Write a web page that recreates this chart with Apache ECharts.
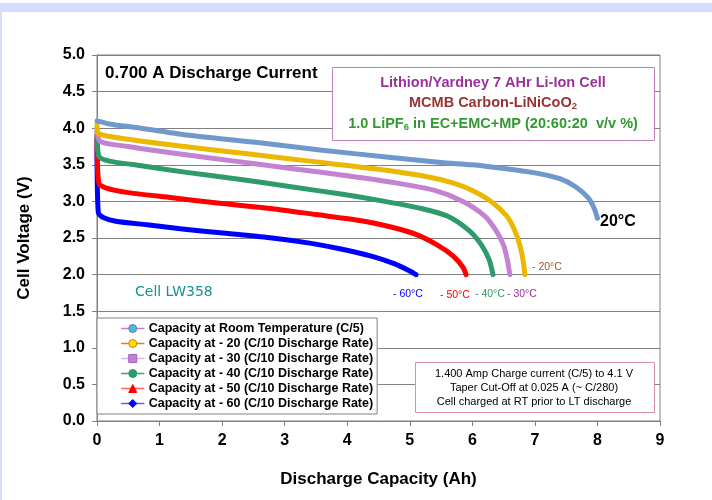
<!DOCTYPE html>
<html><head><meta charset="utf-8">
<script src="https://cdn.jsdelivr.net/npm/echarts@6/dist/echarts.min.js"></script>
<style>html,body{margin:0;padding:0;background:#fff}#c{width:712px;height:500px}</style>
</head><body><div id="c"></div><script>
// Series names
const seriesNames = [
  'Capacity at Room Temperature (C/5)',
  'Capacity at - 20 (C/10 Discharge Rate)',
  'Capacity at - 30 (C/10 Discharge Rate)',
  'Capacity at - 40 (C/10 Discharge Rate)',
  'Capacity at - 50 (C/10 Discharge Rate)',
  'Capacity at - 60 (C/10 Discharge Rate)'
];
// Room temperature
const capRT = [0, 0.25, 0.7, 1.5, 2.6, 3.6, 4.7, 5.5, 6.0, 6.5, 7.0, 7.4, 7.65, 7.85, 7.95, 8.0];
const voltRT = [4.10, 4.05, 4.00, 3.90, 3.80, 3.70, 3.60, 3.53, 3.50, 3.45, 3.39, 3.31, 3.20, 3.05, 2.90, 2.77];
// -20 C
const capM20 = [0, 0.02, 0.5, 1.4, 2.4, 3.4, 4.4, 5.2, 5.7, 6.0, 6.3, 6.55, 6.68, 6.76, 6.81, 6.84];
const voltM20 = [4.05, 3.93, 3.85, 3.75, 3.65, 3.55, 3.45, 3.35, 3.25, 3.15, 3.00, 2.80, 2.60, 2.40, 2.20, 2.00];
// -30 C
const capM30 = [0, 0.05, 0.5, 1.3, 2.2, 3.1, 4.0, 4.8, 5.4, 5.85, 6.2, 6.38, 6.5, 6.56, 6.6];
const voltM30 = [4.00, 3.82, 3.75, 3.65, 3.55, 3.45, 3.35, 3.25, 3.15, 3.00, 2.80, 2.60, 2.40, 2.20, 2.00];
// -40 C
const capM40 = [0, 0.03, 0.2, 0.6, 1.4, 2.3, 3.1, 3.9, 4.6, 5.2, 5.6, 5.95, 6.15, 6.27, 6.33];
const voltM40 = [3.95, 3.62, 3.55, 3.50, 3.40, 3.30, 3.20, 3.10, 3.00, 2.90, 2.80, 2.60, 2.40, 2.20, 2.00];
// -50 C
const capM50 = [0, 0.03, 0.15, 0.5, 1.2, 2.0, 2.8, 3.5, 4.2, 4.7, 5.1, 5.45, 5.7, 5.85, 5.9];
const voltM50 = [3.90, 3.25, 3.18, 3.12, 3.05, 2.97, 2.90, 2.82, 2.74, 2.65, 2.55, 2.40, 2.25, 2.10, 2.00];
// -60 C
const capM60 = [0, 0.02, 0.1, 0.3, 0.8, 1.4, 2.1, 2.8, 3.4, 3.9, 4.4, 4.75, 5.0, 5.1];
const voltM60 = [3.85, 2.85, 2.78, 2.73, 2.68, 2.62, 2.56, 2.50, 2.43, 2.35, 2.25, 2.15, 2.05, 2.00];

const xTicks = [0,1,2,3,4,5,6,7,8,9];
const yTicks = [0,0.5,1,1.5,2,2.5,3,3.5,4,4.5,5];

const caps = [capRT, capM20, capM30, capM40, capM50, capM60];
const volts = [voltRT, voltM20, voltM30, voltM40, voltM50, voltM60];
const lineColors = ['#6f98cc', '#eab800', '#c482d2', '#2f9a6a', '#ff0000', '#0000ff'];
const legendLine = ['#c080c0', '#d08040', '#e0b0f0', '#40a070', '#ff6060', '#6060ff'];
const symFill = ['#40c0d0', '#ffe000', '#c080d0', '#2f9a6a', '#ff0000', '#0000ff'];
const symBorder = ['#a060c0', '#d08000', '#a060c0', '#2f9a6a', '#ff0000', '#0000ff'];
const symbols = ['circle', 'circle', 'rect', 'circle', 'triangle', 'diamond'];

const FONT = 'Liberation Sans, Arial, sans-serif';

const series = seriesNames.map((n, i) => ({
  name: n,
  type: 'line',
  data: caps[i].map((c, j) => [c, volts[i][j]]),
  smooth: 0.25,
  showSymbol: false,
  symbol: symbols[i],
  symbolSize: 7,
  lineStyle: { color: lineColors[i], width: 5, join: 'round', cap: 'round' },
  itemStyle: { color: symFill[i], borderColor: symBorder[i], borderWidth: 1 },
  z: 10 - i
}));

const chart = echarts.init(document.getElementById('c'));
chart.setOption({
  animation: false,
  backgroundColor: '#ffffff',
  grid: { left: 97, right: 52, top: 55, bottom: 79, show: true, borderColor: '#808080', borderWidth: 1 },
  xAxis: {
    type: 'value', min: 0, max: 9, interval: 1,
    name: 'Discharge Capacity (Ah)', nameLocation: 'middle', nameGap: 50,
    nameTextStyle: { fontFamily: FONT, fontWeight: 'bold', fontSize: 17, color: '#000' },
    axisLine: { lineStyle: { color: '#808080' } },
    axisTick: { show: true, length: 5, lineStyle: { color: '#808080' } },
    axisLabel: { margin: 12, fontFamily: FONT, fontWeight: 'bold', fontSize: 16, color: '#000',
      formatter: v => xTicks.includes(v) ? String(v) : '' },
    splitLine: { show: false }
  },
  yAxis: {
    type: 'value', min: 0, max: 5, interval: 0.5,
    name: 'Cell Voltage (V)', nameLocation: 'middle', nameGap: 64, nameRotate: 90,
    nameTextStyle: { fontFamily: FONT, fontWeight: 'bold', fontSize: 17, color: '#000' },
    axisLine: { show: true, lineStyle: { color: '#808080' } },
    axisTick: { show: true, length: 5, lineStyle: { color: '#808080' } },
    axisLabel: { margin: 12, fontFamily: FONT, fontWeight: 'bold', fontSize: 16, color: '#000',
      formatter: v => yTicks.includes(v) ? v.toFixed(1) : '' },
    splitLine: { show: true, lineStyle: { color: '#808080', width: 1 } }
  },
  legend: {
    orient: 'vertical', left: 97, top: 318,
    padding: [3, 4, 3, 24],
    itemGap: 0, itemWidth: 22, itemHeight: 10,
    backgroundColor: '#ffffff', borderColor: '#808080', borderWidth: 1,
    textStyle: { fontFamily: FONT, fontWeight: 'bold', fontSize: 12.5, color: '#000', lineHeight: 15 },
    data: seriesNames.map((n, i) => ({
      name: n,
      lineStyle: { width: 1.5, color: legendLine[i] },
      itemStyle: { color: symFill[i], borderColor: symBorder[i], borderWidth: 1 }
    }))
  },
  series: series,
  graphic: [
    { type: 'rect', shape: { x: 0, y: 3, width: 712, height: 9 }, style: { fill: '#d4ddfc' }, silent: true },
    { type: 'rect', shape: { x: 0, y: 12, width: 2, height: 488 }, style: { fill: '#d4ddfc' }, silent: true },
    { type: 'text', x: 105, y: 73, style: { text: '0.700 A Discharge Current', verticalAlign: 'middle', fontFamily: FONT, fontWeight: 'bold', fontSize: 17, fill: '#000' } },
    { type: 'rect', shape: { x: 332.5, y: 67.5, width: 322, height: 73 }, style: { fill: '#fff', stroke: '#c080c0', lineWidth: 1 }, z: 20 },
    { type: 'text', x: 493, y: 83, z: 21, style: { text: 'Lithion/Yardney 7 AHr Li-Ion Cell', align: 'center', verticalAlign: 'middle', fontFamily: FONT, fontWeight: 'bold', fontSize: 14.5, fill: '#993399' } },
    { type: 'text', x: 493, y: 103, z: 21, style: { text: '{a|MCMB Carbon-LiNiCoO}{s|2}', align: 'center', verticalAlign: 'middle',
        rich: { a: { fontFamily: FONT, fontWeight: 'bold', fontSize: 14.5, fill: '#993333' },
                s: { fontFamily: FONT, fontWeight: 'bold', fontSize: 9.5, fill: '#993333', padding: [7, 0, 0, 0] } } } },
    { type: 'text', x: 493, y: 124, z: 21, style: { text: '{a|1.0 LiPF}{s|6}{a| in EC+EMC+MP (20:60:20  v/v %)}', align: 'center', verticalAlign: 'middle',
        rich: { a: { fontFamily: FONT, fontWeight: 'bold', fontSize: 14.5, fill: '#339933' },
                s: { fontFamily: FONT, fontWeight: 'bold', fontSize: 9.5, fill: '#339933', padding: [7, 0, 0, 0] } } } },
    { type: 'rect', shape: { x: 415.5, y: 362.5, width: 239, height: 50 }, style: { fill: '#fff', stroke: '#d890a8', lineWidth: 1 }, z: 20 },
    { type: 'text', x: 534, y: 388, z: 21, style: { text: '1.400 Amp Charge current (C/5) to 4.1 V\nTaper Cut-Off at 0.025 A (~ C/280)\nCell charged at RT prior to LT discharge',
        align: 'center', verticalAlign: 'middle', lineHeight: 14, fontFamily: FONT, fontSize: 11, fill: '#000' } },
    { type: 'text', x: 600, y: 222, z: 21, style: { text: '20°C', verticalAlign: 'middle', fontFamily: FONT, fontWeight: 'bold', fontSize: 16, fill: '#000' } },
    { type: 'text', x: 532, y: 267, z: 21, style: { text: '- 20°C', verticalAlign: 'middle', fontFamily: FONT, fontSize: 10.5, fill: '#a0522d' } },
    { type: 'text', x: 393, y: 294, z: 21, style: { text: '- 60°C', verticalAlign: 'middle', fontFamily: FONT, fontSize: 10.5, fill: '#0000ff' } },
    { type: 'text', x: 440, y: 295, z: 21, style: { text: '- 50°C', verticalAlign: 'middle', fontFamily: FONT, fontSize: 10.5, fill: '#ff0000' } },
    { type: 'text', x: 475, y: 294, z: 21, style: { text: '- 40°C', verticalAlign: 'middle', fontFamily: FONT, fontSize: 10.5, fill: '#339966' } },
    { type: 'text', x: 507, y: 294, z: 21, style: { text: '- 30°C', verticalAlign: 'middle', fontFamily: FONT, fontSize: 10.5, fill: '#993399' } },
    { type: 'text', x: 135, y: 292, z: 21, style: { text: 'Cell LW358', verticalAlign: 'middle', fontFamily: 'DejaVu Sans, Verdana, sans-serif', fontSize: 14, fill: '#129292' } }
  ]
});
</script></body></html>
